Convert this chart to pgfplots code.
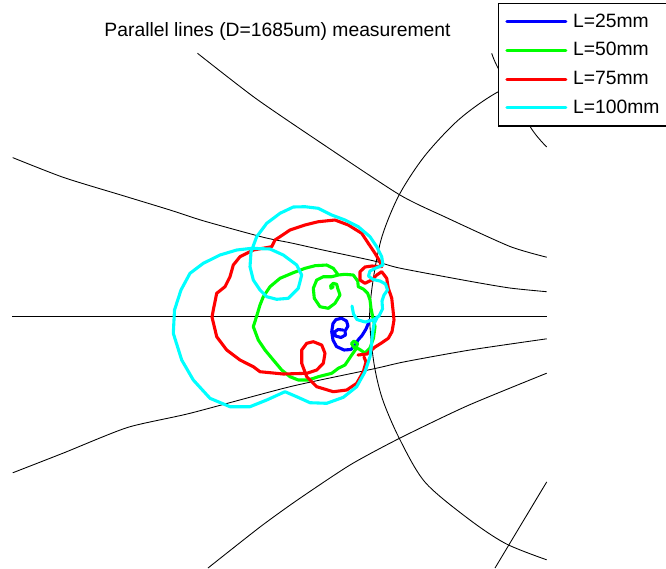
\documentclass[border=0pt]{standalone}
\usepackage{fontspec}
\setmainfont{Liberation Sans}
\usepackage{pgfplots}
\pgfplotsset{compat=1.18}

\definecolor{cb}{RGB}{0,0,255}
\definecolor{cg}{RGB}{0,255,0}
\definecolor{cr}{RGB}{255,0,0}
\definecolor{cc}{RGB}{0,255,255}

\begin{document}
\begin{tikzpicture}
\begin{axis}[
  name=ax,
  x=0.518pt, y=0.518pt,
  xmin=0, xmax=666, ymin=0, ymax=568,
  y dir=reverse,
  hide axis,
  clip=true,
  legend cell align=left,
  legend image code/.code={\draw[#1] (0pt,0pt) -- (30.5pt,0pt);},
  legend style={at={(axis cs:498,3)}, anchor=north west,
    draw=black, line width=0.6pt, fill=white,
    row sep=0.4pt, inner xsep=3.5pt, inner ysep=2.2pt,
    nodes={inner sep=3pt}},
  trace/.style={line width=1.6pt, line join=round, line cap=round},
  grid line/.style={black, line width=0.45pt, forget plot, smooth, tension=0.4},
]
% reference lines of the pattern (fan of lines and the arc)
\addplot[grid line] coordinates {(12,316) (547,316)};
\addplot[grid line] coordinates {(12.7,157.6) (63.7,177.5) (123.2,195.7) (170,210) (204,221) (263.4,237.3) (290,242.7) (322.9,250) (373.8,260.9) (399.3,268) (467.3,280.8) (509.8,288) (546.7,291.7)};
\addplot[grid line] coordinates {(197.5,53.3) (254.9,97.8) (318.6,141.3) (399.3,194.6) (446,217.4) (509.8,246.4) (546.7,257.2)};
\addplot[grid line] coordinates {(491.7,53.3) (498,68) (531,128) (546.7,147)};
\addplot[grid line] coordinates {(12.7,472.8) (63.7,452.9) (127.4,427.5) (190,413.3) (290,386.7) (373.8,368.8) (405,361.7) (470,350) (546.7,338.8)};
\addplot[grid line] coordinates {(208,568) (260,527) (297.4,500) (350,465) (399.3,438.4) (467.3,405.8) (546.7,373.2)};
\addplot[grid line] coordinates {(495,568) (546.7,481.9)};
\addplot[grid line, tension=0.5] coordinates {(546.7,559.8) (505.5,543.5) (467.3,518) (424.8,481.9) (399.3,438.4) (382.3,398.6) (373.8,362.3) (369.6,316.3) (373.8,275.4) (382.3,235.5) (399.3,194.6) (424.8,155.8) (458.8,119.6) (497,92.4) (546.7,70)};

% L = 25 mm
\addplot[trace, cb] coordinates {
(343,330) (338,329.5) (334.5,332) (335.5,336) (341,337.5) (345.5,335) (345,331) (348,326) (346.5,321) (341.7,318.3) (336,319.5) (333,323.5) (331.7,331.7) (333,340) (336.5,346.5) (344,350) (351,349.5) (356,344) (358,340) (362,335.5) (366,329) (368.5,323) (369.5,320)};
\addlegendentry{L=25mm}

% L = 50 mm
\addplot[trace, cg] coordinates {
(333.3,286.7) (331,288.3) (330.7,285.7) (333.3,283.3) (336.7,284.3) (337.7,288.3) (340,295) (335,303.3) (328.3,308.3) (320,306.7) (314.3,298.3) (313.3,288.3) (316.7,280) (323.3,276.7) (331.7,276.7) (338.3,275) (345,274.3) (353.3,275) (357.7,281) (358.3,286.7) (363.3,289) (367.7,293.3) (370,300) (371,308.3) (372.7,316.7) (375,326.7) (373.5,338) (370,348) (365,353) (359,349) (354,347.5) (351.5,343.5) (354,341) (357.5,343.5) (356,349) (351.7,355) (345,365) (338.3,368.3) (331.7,373.3) (318.3,376.7) (308.3,380) (298.3,380) (290,376.7) (281.7,370) (273.3,360) (265,350) (258.3,340) (253.3,326.7) (256,318.3) (260,305) (263.3,296.7) (270,286.7) (280,278.3) (293.3,272.7) (305,268.3) (315,265.7) (326.7,265) (333.3,268.3) (338.3,275)};
\addlegendentry{L=50mm}

% L = 75 mm
\addplot[trace, cr] coordinates {
(358,355) (367,354) (375,347) (381,343.3) (388.3,338.3) (392,331.7) (394,320) (393,310) (391.7,298) (388.3,288.3) (386.7,278.3) (381.7,271.7) (376.7,275) (371.7,280) (365,283.3) (360,280) (360,271.7) (365,267) (372,266) (381.7,266.7) (380,261.7) (375,253.3) (368.3,243.3) (361.7,233.3) (348.3,225) (335,220) (318.3,221.7) (305,225) (290,230) (280,236.7) (275,240) (271.7,246.7) (253.3,250) (240,256.7) (233.3,265) (230,276.7) (225,286.7) (216.7,293.3) (213.3,310) (212,317) (216.7,336.7) (226.7,350) (240,360) (253.3,366.7) (260,371.7) (283.3,374) (306.7,373.3) (316.7,370) (323.3,363.3) (325,353.3) (321.7,345) (313.3,341.7) (306.7,343.3) (301.7,350) (301.7,363.3) (306.7,376.7) (316.7,386.7) (333.3,391.7) (346.7,390) (356.7,383.3) (363.3,371.7) (366,362) (364,357)};
\addlegendentry{L=75mm}

% L = 100 mm
\addplot[trace, cc] coordinates {
(352,306) (353.5,314) (357,319.5) (365,322) (373,320) (379,316) (382.5,309) (382,301) (384,295) (387.5,290) (385.5,284) (380,281) (373,279.5) (368.5,276) (370,271) (376,268) (383,265) (381.7,256.7) (376.7,246.7) (370,236.7) (358.3,226.7) (345,220) (331.7,215) (318.3,208.3) (305,206.7) (293.3,207) (280,213.3) (266.7,223.3) (256.7,236.7) (251,252) (250,266.7) (253.3,280) (260,290) (266.7,296.7) (276.7,299.3) (288.3,298.3) (298.3,288.3) (301.7,275) (296.7,265) (283.3,255) (270,249) (251.7,248.3) (236.7,250) (220,255) (203.3,263.3) (190,273.3) (181,290) (174.5,310) (173.3,333.3) (181.7,360) (193.3,380) (210,398.3) (230,406.7) (250,406.7) (266.7,400) (285,391.7) (296.7,396.7) (310,402.7) (326.7,403.3) (343.3,397.3) (356.7,386.7) (365,371.7) (370,356.7) (371.5,345) (372.5,333) (374,324) (377,318)};
\addlegendentry{L=100mm}

\node[anchor=base] at (axis cs:277.5,36) {Parallel lines (D=1685um) measurement};
\end{axis}
\pgfresetboundingbox
\path[use as bounding box] (ax.south west) rectangle (ax.north east);
\end{tikzpicture}
\end{document}
